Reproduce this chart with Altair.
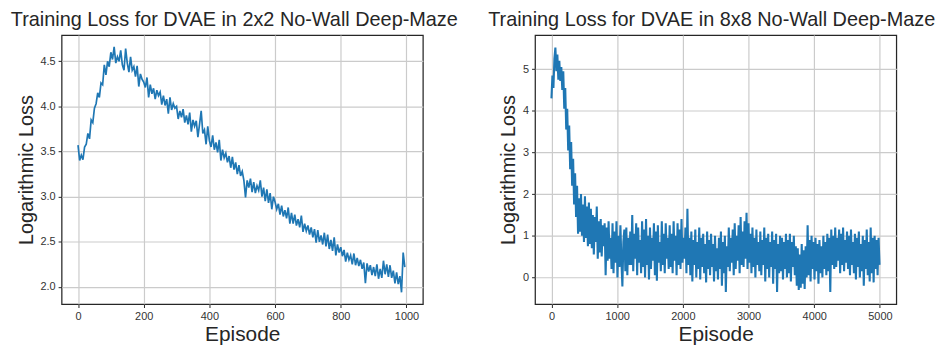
import altair as alt
import pandas as pd

# ---- data ----
# 2x2 maze: one value every 5 episodes (0 ... 995)
left_loss = [
    3.57, 3.40, 3.46, 3.41, 3.55, 3.58, 3.70, 3.64, 3.85, 3.82,
    3.98, 4.03, 4.15, 4.10, 4.26, 4.24, 4.46, 4.35, 4.50, 4.44,
    4.60, 4.52, 4.66, 4.48, 4.55, 4.50, 4.62, 4.46, 4.40, 4.64,
    4.48, 4.38, 4.55, 4.40, 4.44, 4.33, 4.45, 4.22, 4.36, 4.30,
    4.27, 4.21, 4.32, 4.10, 4.24, 4.14, 4.20, 4.08, 4.18, 4.12,
    4.16, 4.02, 4.12, 4.01, 4.08, 3.92, 4.10, 3.96, 4.03, 3.98,
    4.00, 3.86, 3.95, 3.88, 3.97, 3.82, 3.90, 3.80, 3.93, 3.72,
    3.85, 3.78, 3.84, 3.66, 3.80, 3.95, 3.70, 3.74, 3.58, 3.78,
    3.62, 3.55, 3.68, 3.52, 3.60, 3.49, 3.63, 3.40, 3.52, 3.43,
    3.48, 3.38, 3.45, 3.32, 3.44, 3.30, 3.38, 3.25, 3.35, 3.23,
    3.28, 3.18, 2.99, 3.18, 3.10, 3.20, 3.05, 3.16, 3.04, 3.12,
    3.07, 3.18, 3.00, 3.10, 2.95, 3.08, 2.93, 3.04, 2.86, 3.00,
    2.94, 2.86, 2.92, 2.80, 2.90, 2.78, 2.85, 2.76, 2.88, 2.70,
    2.82, 2.70, 2.80, 2.68, 2.75, 2.66, 2.79, 2.61, 2.70, 2.62,
    2.68, 2.58, 2.66, 2.55, 2.64, 2.49, 2.63, 2.50, 2.57, 2.47,
    2.60, 2.45, 2.58, 2.42, 2.52, 2.40, 2.55, 2.35, 2.47, 2.38,
    2.44, 2.34, 2.41, 2.28, 2.38, 2.30, 2.35, 2.25, 2.37, 2.24,
    2.32, 2.23, 2.30, 2.20, 2.27, 2.04, 2.26, 2.17, 2.24, 2.13,
    2.22, 2.12, 2.25, 2.09, 2.20, 2.10, 2.29, 2.14, 2.25, 2.11,
    2.24, 2.10, 2.18, 2.04, 2.16, 2.03, 2.12, 1.94, 2.38, 2.22,
]

# 8x8 maze: one value every 15 episodes (0 ... 4995)
right_loss = [
    4.30, 4.85, 4.55, 5.25, 5.52, 4.95, 5.35, 4.75, 5.20, 4.72,
    5.05, 4.50, 4.95, 4.05, 4.55, 3.55, 4.05, 3.05, 3.65, 2.60,
    3.25, 2.20, 2.85, 1.75, 2.50, 1.45, 2.20, 1.05, 1.90, 1.10,
    2.00, 1.00, 1.75, 0.85, 1.95, 0.95, 1.70, 0.75, 1.80, 0.80,
    1.65, 0.70, 1.50, 0.55, 1.45, 0.85, 1.70, 0.45, 1.35, 0.60,
    1.40, 0.50, 1.25, 0.75, 1.30, 0.05, 1.20, 0.40, 1.35, 0.45,
    0.95, 0.20, 1.30, 0.10, 1.10, 0.35, 1.35, 0.00, 1.00, 0.25,
    1.25, 0.40, -0.22, 0.85, 1.15, 0.15, 1.20, 0.05, 0.95, 0.30,
    1.10, 0.30, 1.50, 0.15, 1.05, 0.45, 1.30, 0.05, 1.20, 0.35,
    0.90, 0.10, 1.35, 0.25, 1.15, 0.00, 1.40, 0.30, 1.00, -0.05,
    1.20, 0.20, 0.95, 0.40, 1.30, 0.05, 1.10, -0.08, 1.25, 0.35,
    0.85, 0.15, 1.35, 0.30, 1.05, 0.10, 1.30, 0.45, 0.95, 0.20,
    1.25, 0.25, 1.05, 0.10, 1.35, 0.40, 1.00, 0.05, 1.30, 0.30,
    1.15, 0.20, 1.40, 0.35, 0.95, 0.45, 1.20, 0.10, 1.65, 0.30,
    0.95, 0.05, 1.10, -0.10, 0.90, 0.30, 1.15, 0.00, 0.85, 0.20,
    1.20, -0.05, 0.95, 0.25, 1.05, 0.10, 0.80, -0.12, 1.10, 0.20,
    0.90, 0.05, 1.05, 0.25, 0.80, -0.10, 1.00, 0.15, 0.70, -0.05,
    0.95, 0.20, 1.10, -0.20, 0.85, 0.10, 1.00, -0.35, 0.75, 0.25,
    1.20, 0.15, 0.95, 0.35, 1.15, 0.05, 1.30, 0.20, 1.00, 0.40,
    1.25, 0.10, 1.45, 0.30, 1.10, 0.25, 1.35, 0.45, 1.55, 0.20,
    1.30, 0.35, 1.05, 0.10, 1.20, 0.25, 0.95, 0.00, 1.15, 0.30,
    0.85, 0.15, 1.10, 0.05, 0.90, 0.30, 1.20, -0.10, 0.95, 0.20,
    1.05, 0.00, 0.85, 0.25, 1.10, -0.15, 0.90, 0.20, 1.05, -0.35,
    0.80, 0.10, 1.00, 0.15, 0.95, -0.05, 0.85, 0.20, 1.05, 0.00,
    0.90, 0.10, 1.05, -0.10, 0.85, 0.25, 1.00, 0.05, 0.75, -0.20,
    0.70, -0.30, 0.55, -0.25, 0.80, -0.15, 0.65, -0.28, 0.75, 0.00,
    1.25, 0.05, 0.90, -0.10, 1.00, 0.20, 0.85, -0.05, 0.95, 0.15,
    0.80, -0.15, 0.90, 0.10, 0.75, 0.00, 1.00, 0.20, 0.85, 0.05,
    1.05, 0.15, 0.95, -0.35, 1.15, 0.30, 1.00, 0.20, 1.20, 0.25,
    0.95, 0.40, 1.15, 0.10, 1.05, 0.30, 1.20, 0.15, 0.90, 0.35,
    1.10, 0.20, 1.00, 0.05, 1.15, 0.30, 0.85, 0.10, 1.05, -0.05,
    0.95, 0.25, 1.10, 0.00, 0.80, 0.15, 1.00, -0.20, 0.90, 0.20,
    1.15, 0.05, 0.85, -0.10, 1.20, 0.10, 0.95, -0.12, 1.00, 0.20,
    0.90, 0.05, 0.95, 0.30,
]

left_title = "Training Loss for DVAE in 2x2 No-Wall Deep-Maze"
right_title = "Training Loss for DVAE in 8x8 No-Wall Deep-Maze"
left_xticks = [0, 200, 400, 600, 800, 1000]
left_yticks = [2.0, 2.5, 3.0, 3.5, 4.0, 4.5]
right_xticks = [0, 1000, 2000, 3000, 4000, 5000]
right_yticks = [0, 1, 2, 3, 4, 5]

left_df = pd.DataFrame({"episode": [i * 5 for i in range(len(left_loss))], "loss": left_loss})
right_df = pd.DataFrame({"episode": [i * 15 for i in range(len(right_loss))], "loss": right_loss})

FONT = "Liberation Sans"
TXT = "#262626"


def panel(df, title, xdom, ydom, xticks, yticks, yfmt, dx, sw):
    return (
        alt.Chart(
            df,
            title=alt.TitleParams(
                title, fontSize=20, font=FONT, color=TXT, fontWeight="normal",
                anchor="middle", offset=5, dx=dx,
            ),
        )
        .mark_line(color="#1f77b4", strokeWidth=sw, clip=True)
        .encode(
            x=alt.X(
                "episode:Q",
                scale=alt.Scale(domain=xdom, nice=False, zero=False),
                axis=alt.Axis(values=xticks, title="Episode", titleFontSize=21,
                              titlePadding=2, format="d"),
            ),
            y=alt.Y(
                "loss:Q",
                scale=alt.Scale(domain=ydom, nice=False, zero=False),
                axis=alt.Axis(values=yticks, title="Logarithmic Loss", titleFontSize=20,
                              titlePadding=4, format=yfmt),
            ),
        )
        .properties(width=364, height=271)
    )


left = panel(left_df, left_title, [-50, 1050], [1.81, 4.79], left_xticks, left_yticks, ".1f", -8, 1.7)
right = panel(right_df, right_title, [-250, 5250], [-0.64, 5.82], right_xticks, right_yticks, "d", -4, 2.1)

chart = (
    alt.hconcat(left, right, spacing=113, bounds="flush")
    .properties(padding={"left": 2, "top": 0, "right": 0, "bottom": 0}, background="white")
    .configure_view(stroke=TXT, strokeWidth=1.25)
    .configure_axis(
        grid=True, gridColor="#cbcbcb", gridWidth=1.2, domain=False,
        ticks=True, tickColor=TXT, tickSize=3.5, tickWidth=1,
        labelFont=FONT, labelFontSize=11, labelColor="#333333", labelPadding=3,
        titleFont=FONT, titleFontWeight="normal", titleColor=TXT,
    )
)

chart.save("out.html", embed_options={"renderer": "svg", "actions": False})
